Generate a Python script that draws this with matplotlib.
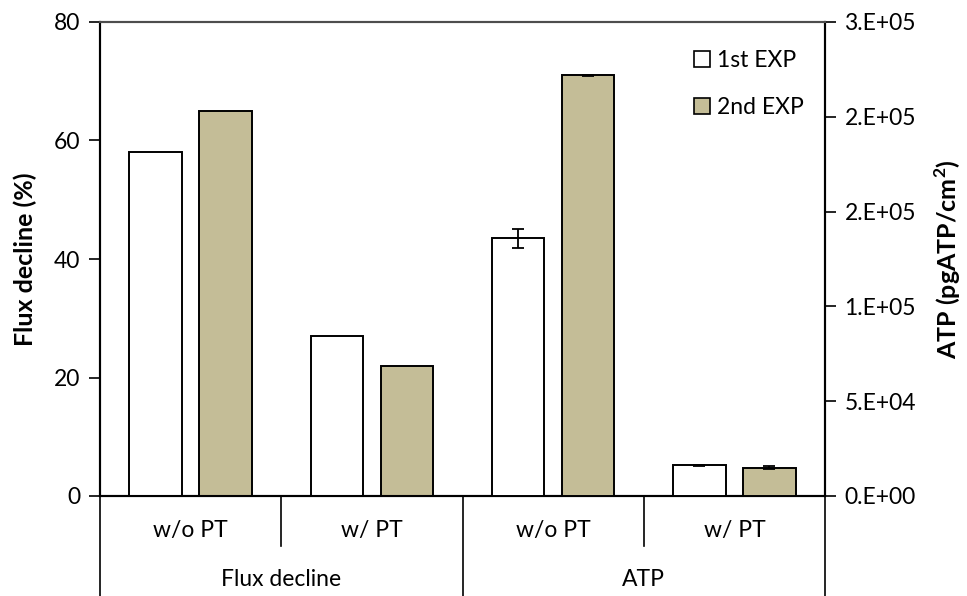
import matplotlib
matplotlib.use("Agg")
import matplotlib.pyplot as plt
import numpy as np
from matplotlib.patches import Patch

plt.rcParams['font.family'] = ['Lato', 'DejaVu Sans']

# ---- data ----
sub_labels = ["w/o PT", "w/ PT", "w/o PT", "w/ PT"]
group_labels = ["Flux decline", "ATP"]
series_names = ["1st EXP", "2nd EXP"]
flux_1st = [58.0, 27.0]
flux_2nd = [65.0, 22.0]
atp_1st = [135900, 16200]
atp_2nd = [221800, 14800]
atp_1st_err = [5100, 300]
atp_2nd_err = [300, 800]
left_ticks = [0, 20, 40, 60, 80]
right_ticks = [0, 50000, 100000, 150000, 200000, 250000]
right_tick_labels = ["0.E+00", "5.E+04", "1.E+05", "2.E+05", "2.E+05", "3.E+05"]

tan = "#C4BD97"
W, H = 967, 596
fig = plt.figure(figsize=(W / 100, H / 100), dpi=100)
L, R, T, B = 100, 825, 22, 496
ax = fig.add_axes([L / W, 1 - B / H, (R - L) / W, (B - T) / H])
ax2 = ax.twinx()

off = 0.193
bw = 0.29
xf = np.array([0, 1])
xa = np.array([2, 3])
ax.bar(xf - off, flux_1st, bw, color="white", edgecolor="black", linewidth=1.4, zorder=3)
ax.bar(xf + off, flux_2nd, bw, color=tan, edgecolor="black", linewidth=1.4, zorder=3)
ekw = dict(elinewidth=1.3, capthick=1.3, ecolor="black")
ax2.bar(xa - off, atp_1st, bw, color="white", edgecolor="black", linewidth=1.4,
        yerr=atp_1st_err, capsize=4.5, error_kw=ekw, zorder=3)
ax2.bar(xa + off, atp_2nd, bw, color=tan, edgecolor="black", linewidth=1.4,
        yerr=atp_2nd_err, capsize=4.5, error_kw=ekw, zorder=3)

ax.set_xlim(-0.5, 3.5)
ax.set_ylim(0, 80)
ax2.set_ylim(0, 250000)

fs = 16.5
ax.set_yticks(left_ticks)
ax.set_yticklabels([str(v) for v in left_ticks], fontsize=fs)
ax2.set_yticks(right_ticks)
ax2.set_yticklabels(right_tick_labels, fontsize=fs)
ax.tick_params(axis='y', direction='out', length=8, width=1.2, pad=6)
ax2.tick_params(axis='y', direction='out', length=8, width=1.2, pad=6)
ax.set_xticks([])
ax2.set_xticks([])

for a in (ax, ax2):
    a.spines['top'].set_color("#4d4d4d")
    a.spines['top'].set_linewidth(1.5)
    for s in ('left', 'right', 'bottom'):
        a.spines[s].set_color("black")
        a.spines[s].set_linewidth(1.5)

ax.set_ylabel("Flux decline (%)", fontsize=18, fontweight='bold', labelpad=12)
ax2.set_ylabel("ATP (pgATP/cm$^\\mathregular{2}$)", fontsize=18, fontweight='bold', labelpad=12)

# category axis below
trans = ax.get_xaxis_transform()
ph = B - T
short = -50 / ph
full = -(H - B) / ph
for xb in [-0.5, 1.5, 3.5]:
    ax.plot([xb, xb], [0, full], transform=trans, color="black", lw=1.2, clip_on=False)
for xb in [0.5, 2.5]:
    ax.plot([xb, xb], [0, short], transform=trans, color="black", lw=1.2, clip_on=False)
for i, lab in enumerate(sub_labels):
    ax.text(i, -34 / ph, lab, transform=trans, ha='center', va='center', fontsize=fs)
for j, lab in enumerate(group_labels):
    ax.text(0.5 + 2 * j, -84 / ph, lab, transform=trans, ha='center', va='center', fontsize=fs)

handles = [Patch(facecolor="white", edgecolor="black", linewidth=1.2),
           Patch(facecolor=tan, edgecolor="black", linewidth=1.2)]
ax2.legend(handles, series_names, loc='upper left', bbox_to_anchor=(0.797, 0.975),
           frameon=False, fontsize=fs, handlelength=0.7, handleheight=0.7,
           handletextpad=0.3, labelspacing=1.15, borderpad=0.2)

fig.savefig("out.png", dpi=100)
